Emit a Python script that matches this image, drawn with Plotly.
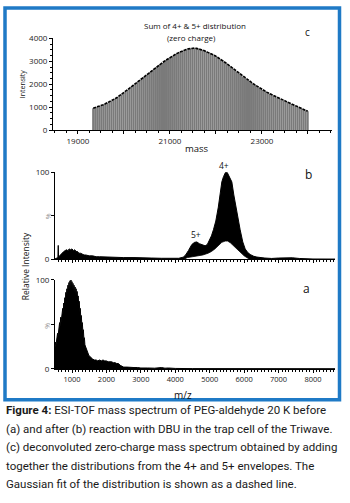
import plotly.graph_objects as go

W, H = 350, 503
def px(x): return x / W
def py(y): return 1 - y / H

# ---------------- data ----------------
# panel c : zero-charge mass spectrum (bars every 44 Da)
c_mass_start = 19330
c_mass_step = 44
c_intensity = [
    960, 985, 1010, 1040, 1075, 1110, 1150, 1190, 1230, 1275,
    1325, 1380, 1435, 1495, 1560, 1625, 1690, 1760, 1830, 1900,
    1970, 2040, 2110, 2180, 2250, 2320, 2390, 2460, 2530, 2600,
    2670, 2735, 2800, 2865, 2930, 2990, 3050, 3110, 3165, 3220,
    3270, 3320, 3365, 3410, 3450, 3485, 3515, 3540, 3560, 3570,
    3570, 3560, 3545, 3520, 3490, 3455, 3420, 3385, 3345, 3300,
    3250, 3200, 3145, 3090, 3030, 2965, 2900, 2830, 2760, 2690,
    2620, 2550, 2480, 2410, 2340, 2275, 2210, 2150, 2090, 2030,
    1970, 1910, 1855, 1800, 1745, 1695, 1645, 1600, 1555, 1510,
    1465, 1425, 1385, 1345, 1305, 1265, 1225, 1185, 1145, 1105,
    1065, 1025, 985, 945, 905, 865, 825,
]
c_mass = [c_mass_start + c_mass_step * i for i in range(len(c_intensity))]

# panel b : after reaction (upper envelope)
b_mz = [505, 560, 590, 600, 610, 640, 680, 720, 760, 800, 840, 880, 920, 960, 1000,
        1040, 1080, 1120, 1160, 1200, 1250, 1300, 1350, 1400, 1500, 1600, 1700, 1800,
        2000, 2200, 2500, 2800, 3000, 3300, 3600, 3900, 4100, 4230, 4300, 4380, 4480,
        4560, 4625, 4700, 4800, 4866, 4930, 5000, 5050, 5108, 5177, 5250, 5352, 5400,
        5460, 5506, 5560, 5642, 5700, 5780, 5884, 5960, 6030, 6100, 6174, 6280, 6370,
        6600, 6800, 7000, 7200, 7400, 7600, 7800, 8000, 8640]
b_int = [0.5, 1, 2, 16, 2, 4, 6, 8, 9, 10, 11, 10, 12, 11, 12,
         10, 11, 9, 9, 7, 7, 6, 5, 5, 4, 4, 3, 3,
         2.5, 2.5, 2, 2, 1.5, 1.5, 1.2, 1, 1.2, 2.5, 5, 10, 17,
         19.5, 20, 18, 16, 15.5, 17, 22, 27, 34, 44, 60, 89, 95,
         100, 100, 96, 89, 74, 55, 34, 20, 12, 8, 5.6, 3.5, 2.6,
         1.5, 1, 1.5, 2, 1.8, 1, 0.6, 0.4, 0.3]
# panel b : lower envelope of the charge-state envelopes
b_low_mz = [4250, 4350, 4500, 4650, 4800, 4950, 5050, 5150, 5250, 5350, 5450, 5520,
            5600, 5700, 5800, 5900, 6000, 6100, 6150]
b_low = [0, 2, 3, 4, 5, 7, 9, 12, 16, 19.5, 21, 21, 19, 15, 11, 7, 4, 1.5, 0]

# panel a : before reaction
a_mz = [505, 520, 535, 550, 565, 580, 595, 610, 625, 640, 655, 670, 685, 700, 715,
        730, 745, 760, 775, 790, 805, 820, 835, 850, 865, 880, 895, 910, 925, 940,
        955, 970, 985, 1000, 1015, 1030, 1045, 1060, 1075, 1090, 1105, 1120, 1135,
        1150, 1165, 1180, 1195, 1210, 1225, 1240, 1255, 1270, 1285, 1300, 1315, 1330,
        1345, 1360, 1375, 1400, 1430, 1460, 1490, 1520, 1560, 1600, 1650, 1700, 1750,
        1800, 1850, 1900, 1950, 2000, 2050, 2100, 2150, 2200, 2250, 2300, 2350, 2400,
        2450, 2500, 2600, 2700, 2800, 2900, 3000, 3200, 3400, 3600, 3700, 3800, 4000,
        4500, 5000, 6000, 7000, 8000, 8640]
a_int = [24, 30, 27, 35, 32, 40, 37, 46, 42, 52, 48, 58, 53, 62, 58,
         68, 63, 74, 68, 80, 73, 86, 77, 90, 80, 94, 83, 97, 85, 99,
         86, 100, 88, 98, 86, 96, 84, 94, 82, 92, 80, 90, 78,
         87, 75, 82, 70, 76, 64, 68, 57, 60, 50, 52, 42, 44,
         34, 35, 27, 24, 20, 17, 15, 14, 12, 11, 10, 10, 9,
         10, 9, 10, 9, 9, 8, 8, 8, 7, 7, 6, 6, 4,
         3, 2, 2, 1.5, 1.5, 1.5, 1, 1, 0.8, 1.5, 0.8, 1, 0.5,
         0.3, 0.3, 0.2, 0.2, 0.2, 0.2]

c_ticks = [19000, 20000, 21000, 22000, 23000, 24000]
c_ticktext = ["19000", "", "21000", "", "23000", ""]
c_yticks = [0, 1000, 2000, 3000, 4000]
ab_ticks = [1000, 2000, 3000, 4000, 5000, 6000, 7000, 8000]

caption = [
    "<b>Figure 4:</b> ESI-TOF mass spectrum of PEG-aldehyde 20 K before",
    "(a) and after (b) reaction with DBU in the trap cell of the Triwave.",
    "(c) deconvoluted zero-charge mass spectrum obtained by adding",
    "together the distributions from the 4+ and 5+ envelopes. The",
    "Gaussian fit of the distribution is shown as a dashed line.",
]

# ---------------- figure ----------------
TF = "Open Sans"
CAPF = "Roboto"

fig = go.Figure()
fig.add_trace(go.Bar(x=c_mass, y=c_intensity, width=44, marker=dict(color="#7a7a7a", line=dict(width=0)),
                     xaxis="x", yaxis="y", hoverinfo="skip"))
fig.add_trace(go.Scatter(x=c_mass, y=c_intensity, mode="lines",
                         line=dict(color="black", width=1.6, dash="3px,1px"),
                         xaxis="x", yaxis="y", hoverinfo="skip"))
fig.add_trace(go.Scatter(x=b_mz, y=b_int, mode="lines", fill="tozeroy", fillcolor="black",
                         line=dict(color="black", width=1), xaxis="x2", yaxis="y2", hoverinfo="skip"))
fig.add_trace(go.Scatter(x=b_low_mz, y=b_low, mode="lines", fill="tozeroy", fillcolor="white",
                         line=dict(color="black", width=0.8), xaxis="x2", yaxis="y2", hoverinfo="skip"))
fig.add_trace(go.Scatter(x=a_mz, y=a_int, mode="lines", fill="tozeroy", fillcolor="black",
                         line=dict(color="black", width=1), xaxis="x3", yaxis="y3", hoverinfo="skip"))

axis_common = dict(showline=True, linecolor="black", linewidth=1, showgrid=False, zeroline=False,
                   ticks="outside", tickcolor="black", tickwidth=1,
                   tickfont=dict(family=TF, size=8, color="#222"))

fig.update_layout(
    width=W, height=H, margin=dict(l=0, r=0, t=0, b=0),
    paper_bgcolor="white", plot_bgcolor="white", showlegend=False,
    xaxis=dict(axis_common, domain=[px(53), px(332)], range=[18457, 24522], anchor="y",
               tickvals=c_ticks, ticktext=c_ticktext, ticklen=3,
               minor=dict(dtick=250, tick0=0, ticklen=2, ticks="outside", tickcolor="black")),
    yaxis=dict(axis_common, domain=[py(127), py(33)], range=[0, 4000], anchor="x",
               tickvals=c_yticks, ticklen=3,
               minor=dict(dtick=250, tick0=0, ticklen=2, ticks="outside", tickcolor="black")),
    xaxis2=dict(axis_common, domain=[px(55), px(335)], range=[506, 8639], anchor="y2",
                tickvals=ab_ticks, showticklabels=False, ticklen=3,
                minor=dict(dtick=100, tick0=0, ticklen=2, ticks="outside", tickcolor="black")),
    yaxis2=dict(axis_common, domain=[py(259), py(170)], range=[0, 100], anchor="x2",
                tickvals=[0, 50, 100], ticktext=["0", "", "100"], ticklen=3),
    xaxis3=dict(axis_common, domain=[px(55), px(335)], range=[506, 8639], anchor="y3",
                tickvals=ab_ticks, ticklen=3, tickfont=dict(family=TF, size=7.5, color="#222"),
                minor=dict(dtick=100, tick0=0, ticklen=2, ticks="outside", tickcolor="black")),
    yaxis3=dict(axis_common, domain=[py(371), py(280)], range=[0, 100], anchor="x3",
                tickvals=[0, 50, 100], ticktext=["0", "", "100"], ticklen=3),
)

def ann(x, y, text, size, family=TF, color="#111", angle=0, xanchor="center", yanchor="middle"):
    fig.add_annotation(x=px(x), y=py(y), xref="paper", yref="paper", text=text, showarrow=False,
                       font=dict(family=family, size=size, color=color), textangle=angle,
                       xanchor=xanchor, yanchor=yanchor)

ann(195, 20, "Sum of 4+ &amp; 5+ distribution", 8)
ann(191, 32, "(zero charge)", 8)
ann(307, 27, "c", 10)
ann(22, 80, "Intensity", 7, angle=-90)
ann(197, 146, "mass", 9.5)
ann(308, 172, "b", 12)
ann(306, 289, "a", 12)
ann(224, 163, "4+", 8.5)
ann(196, 234, "5+", 8.5)
ann(48, 215, "%", 7, color="#999", angle=-90)
ann(48, 327, "%", 7, color="#999", angle=-90)
ann(25, 266, "Relative Intensity", 8.5, angle=-90)
ann(183, 398, "m/z", 10)

cap_y = [413, 432, 451, 470, 489]
for yy, t in zip(cap_y, caption):
    ann(4, yy, t, 11.5, family=CAPF, color="#1a1a1a", xanchor="left")

# blue frame
fig.add_shape(type="rect", xref="paper", yref="paper",
              x0=px(5), x1=px(339.5), y0=py(402.5), y1=py(2),
              line=dict(color="#1f7ac6", width=3.5), fillcolor="rgba(0,0,0,0)", layer="above")

fig.write_html("out.html")
